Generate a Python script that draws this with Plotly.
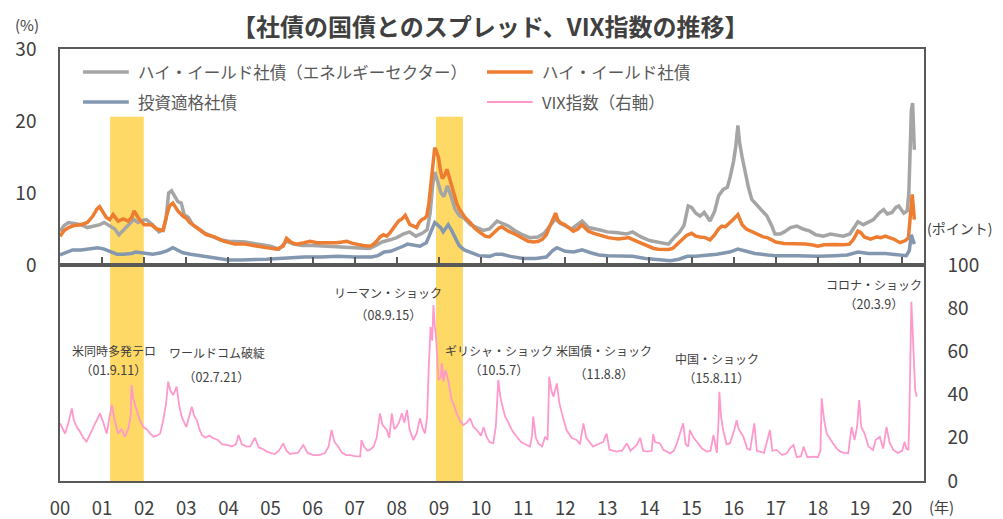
import plotly.graph_objects as go

# ---------------- data ----------------
hy_energy_t = [2000.0, 2000.1, 2000.2, 2000.35, 2000.5, 2000.65, 2000.8, 2000.95, 2001.05, 2001.2, 2001.3, 2001.4,
               2001.5, 2001.62, 2001.75, 2001.85, 2001.95, 2002.05, 2002.2, 2002.35, 2002.45, 2002.52, 2002.58,
               2002.65, 2002.72, 2002.8, 2002.88, 2002.95, 2003.05, 2003.15, 2003.3, 2003.45, 2003.6, 2003.8,
               2004.0, 2004.2, 2004.4, 2004.6, 2004.8, 2005.0, 2005.2, 2005.38, 2005.55, 2005.75, 2006.0, 2006.3,
               2006.6, 2006.9, 2007.1, 2007.35, 2007.5, 2007.65, 2007.84, 2008.0, 2008.15, 2008.3, 2008.45, 2008.6,
               2008.72, 2008.79, 2008.85, 2008.9, 2008.96, 2009.05, 2009.12, 2009.2, 2009.28, 2009.38, 2009.48,
               2009.6, 2009.75, 2009.9, 2010.05, 2010.2, 2010.38, 2010.5, 2010.65, 2010.8, 2010.95, 2011.15,
               2011.35, 2011.5, 2011.65, 2011.76, 2011.88, 2012.0, 2012.15, 2012.4, 2012.55, 2012.8, 2013.0,
               2013.2, 2013.45, 2013.6, 2013.8, 2014.0, 2014.2, 2014.45, 2014.6, 2014.72, 2014.82, 2014.92, 2015.0,
               2015.1, 2015.2, 2015.3, 2015.44, 2015.55, 2015.64, 2015.75, 2015.85, 2015.92, 2016.0, 2016.05,
               2016.1, 2016.14, 2016.2, 2016.27, 2016.35, 2016.43, 2016.55, 2016.65, 2016.79, 2016.9, 2016.98,
               2017.1, 2017.2, 2017.35, 2017.5, 2017.65, 2017.81, 2017.95, 2018.13, 2018.3, 2018.45, 2018.6,
               2018.76, 2018.86, 2018.95, 2019.08, 2019.2, 2019.32, 2019.45, 2019.56, 2019.65, 2019.76, 2019.85,
               2019.92, 2020.04, 2020.12, 2020.16, 2020.19, 2020.22, 2020.25, 2020.27, 2020.29]
hy_energy_v = [4.7, 5.5, 5.9, 5.7, 5.6, 5.2, 5.4, 5.6, 5.9, 5.4, 5.0, 4.2,
               4.8, 5.6, 6.3, 5.9, 6.2, 6.3, 5.6, 4.6, 4.9, 6.5, 10.0,
               10.3, 9.6, 8.8, 8.6, 7.0, 6.6, 5.6, 5.0, 4.4, 4.0, 3.5,
               3.3, 3.3, 3.2, 3.0, 2.8, 2.6, 2.2, 3.3, 2.9, 2.7, 2.7, 2.6,
               2.5, 2.5, 2.4, 2.3, 2.7, 3.2, 3.5, 3.8, 4.3, 4.6, 4.0, 4.4,
               4.9, 7.2, 11.0, 12.9, 11.8, 10.0, 9.5, 11.0, 9.7, 7.8, 6.9,
               6.5, 5.6, 5.2, 4.8, 5.0, 6.1, 5.8, 5.4, 4.8, 4.3, 3.8,
               3.9, 4.4, 5.6, 6.4, 5.8, 5.4, 5.0, 6.1, 5.2, 4.9, 4.6,
               4.5, 4.3, 4.6, 3.9, 3.4, 3.2, 2.9, 3.9, 4.6, 5.5, 8.2, 8.0,
               7.2, 6.8, 7.3, 6.1, 7.5, 9.6, 10.5, 10.8, 12.3, 14.5, 16.5,
               19.4, 17.0, 15.0, 12.8, 10.8, 9.1, 8.3, 7.7, 6.8, 5.5, 4.3,
               4.3, 4.6, 5.2, 5.4, 5.0, 4.7, 4.2, 4.0, 4.3, 4.2, 4.0,
               4.3, 5.2, 6.0, 5.6, 5.9, 6.3, 7.2, 7.7, 7.1, 7.3, 8.0,
               8.2, 7.2, 7.5, 10.0, 16.5, 21.6, 22.5, 19.0, 16.0]

hy_t = [2000.0, 2000.1, 2000.2, 2000.35, 2000.5, 2000.65, 2000.78, 2000.88, 2000.94, 2001.02, 2001.1, 2001.18,
        2001.26, 2001.38, 2001.5, 2001.62, 2001.7, 2001.76, 2001.82, 2001.89, 2002.0, 2002.16, 2002.3, 2002.45,
        2002.53, 2002.6, 2002.68, 2002.74, 2002.8, 2002.92, 2003.0, 2003.08, 2003.2, 2003.3, 2003.47, 2003.67,
        2003.9, 2004.15, 2004.4, 2004.7, 2004.94, 2005.15, 2005.3, 2005.38, 2005.5, 2005.62, 2005.8, 2005.94,
        2006.1, 2006.25, 2006.4, 2006.57, 2006.7, 2006.81, 2006.95, 2007.05, 2007.2, 2007.36, 2007.45, 2007.52,
        2007.6, 2007.68, 2007.76, 2007.84, 2007.94, 2008.04, 2008.12, 2008.2, 2008.26, 2008.31, 2008.4, 2008.47,
        2008.53, 2008.59, 2008.66, 2008.71, 2008.76, 2008.8, 2008.85, 2008.9, 2008.94, 2008.99, 2009.04, 2009.08,
        2009.14, 2009.19, 2009.24, 2009.3, 2009.36, 2009.42, 2009.48, 2009.54, 2009.62, 2009.74, 2009.85, 2009.98,
        2010.1, 2010.2, 2010.33, 2010.42, 2010.49, 2010.57, 2010.65, 2010.77, 2010.89, 2011.0, 2011.12, 2011.25,
        2011.36, 2011.46, 2011.55, 2011.62, 2011.68, 2011.74, 2011.77, 2011.82, 2011.88, 2011.99, 2012.1, 2012.19,
        2012.3, 2012.39, 2012.46, 2012.55, 2012.68, 2012.79, 2012.9, 2013.02, 2013.14, 2013.26, 2013.4, 2013.5,
        2013.62, 2013.74, 2013.86, 2013.97, 2014.1, 2014.21, 2014.35, 2014.45, 2014.55, 2014.65, 2014.77, 2014.88,
        2015.0, 2015.1, 2015.2, 2015.32, 2015.44, 2015.55, 2015.64, 2015.72, 2015.8, 2015.91, 2016.0, 2016.1,
        2016.15, 2016.2, 2016.3, 2016.4, 2016.5, 2016.6, 2016.7, 2016.8, 2016.9, 2017.0, 2017.2, 2017.4, 2017.5,
        2017.7, 2017.85, 2018.0, 2018.15, 2018.3, 2018.4, 2018.6, 2018.75, 2018.85, 2018.95, 2019.02, 2019.1,
        2019.25, 2019.4, 2019.5, 2019.6, 2019.7, 2019.8, 2019.95, 2020.08, 2020.15, 2020.19, 2020.22, 2020.24,
        2020.26, 2020.29]
hy_v = [4.0, 4.8, 5.2, 5.5, 5.6, 5.9, 6.8, 7.8, 8.1, 7.3, 6.6, 6.3,
        7.0, 6.1, 6.4, 6.1, 6.6, 7.5, 7.0, 6.3, 5.6, 5.6, 5.0, 4.8,
        6.8, 8.2, 8.6, 8.0, 7.5, 6.8, 6.5, 5.9, 5.4, 5.0, 4.2, 3.9,
        3.3, 2.9, 2.9, 2.6, 2.4, 2.2, 2.6, 3.7, 3.1, 2.9, 3.1, 3.3,
        3.1, 3.1, 3.0, 3.1, 3.2, 3.3, 3.0, 2.85, 2.7, 2.6, 2.9, 3.3,
        3.9, 4.2, 4.0, 4.5, 5.3, 6.1, 6.4, 6.9, 6.2, 5.6, 5.4, 5.2,
        5.9, 6.3, 6.5, 6.8, 8.5, 11.0, 13.3, 16.3, 15.8, 14.9, 13.0, 12.0,
        12.5, 13.3, 12.3, 10.9, 9.7, 8.6, 7.8, 7.3, 6.6, 5.9, 5.1, 4.5,
        4.0, 3.9, 4.7, 5.1, 5.3, 5.0, 4.7, 4.4, 4.0, 3.6, 3.3, 3.2,
        3.3, 3.6, 4.2, 5.2, 5.9, 6.8, 7.2, 6.3, 5.9, 5.6, 5.1, 4.7,
        5.0, 5.6, 5.2, 4.7, 4.4, 4.2, 4.0, 3.8, 3.7, 3.6, 3.7, 3.8,
        3.5, 3.2, 2.8, 2.5, 2.3, 2.2, 2.1, 2.15, 2.3, 2.8, 3.5, 4.1,
        4.4, 4.0, 3.9, 3.8, 3.5, 4.2, 5.0, 5.4, 5.3, 6.0, 6.4, 7.0,
        6.3, 5.6, 5.0, 4.7, 4.4, 4.1, 3.9, 3.8, 3.5, 3.2, 3.0, 3.0, 2.9,
        2.9, 2.8, 2.6, 2.8, 2.9, 2.85, 2.8, 2.9, 3.6, 4.7, 4.5, 3.9,
        3.6, 3.9, 3.8, 4.0, 3.8, 3.6, 3.1, 3.4, 3.8, 6.5, 8.5, 9.8,
        8.5, 6.3]

ig_t = [2000.0, 2000.15, 2000.3, 2000.5, 2000.7, 2000.9, 2001.05, 2001.2, 2001.35, 2001.5, 2001.7, 2001.8,
        2002.0, 2002.2, 2002.4, 2002.55, 2002.68, 2002.8, 2002.92, 2003.1, 2003.3, 2003.5, 2003.75, 2004.0,
        2004.3, 2004.6, 2004.9, 2005.2, 2005.5, 2005.8, 2006.2, 2006.6, 2007.0, 2007.4, 2007.55, 2007.7,
        2007.85, 2008.0, 2008.15, 2008.25, 2008.4, 2008.55, 2008.7, 2008.78, 2008.85, 2008.9, 2008.96, 2009.04,
        2009.1, 2009.18, 2009.22, 2009.3, 2009.38, 2009.48, 2009.6, 2009.75, 2009.95, 2010.2, 2010.35, 2010.5,
        2010.7, 2011.0, 2011.3, 2011.55, 2011.7, 2011.8, 2011.9, 2012.0, 2012.2, 2012.4, 2012.6, 2012.8,
        2013.0, 2013.3, 2013.6, 2013.9, 2014.2, 2014.5, 2014.7, 2014.9, 2015.1, 2015.3, 2015.6, 2015.9,
        2016.1, 2016.3, 2016.5, 2016.8, 2017.0, 2017.5, 2018.0, 2018.4, 2018.7, 2018.95, 2019.2, 2019.6,
        2019.9, 2020.1, 2020.17, 2020.22, 2020.25, 2020.29]
ig_v = [1.4, 1.8, 2.1, 2.1, 2.2, 2.4, 2.2, 1.9, 1.5, 1.5, 1.6, 1.8,
        1.6, 1.5, 1.7, 2.0, 2.4, 2.1, 1.7, 1.5, 1.3, 1.1, 0.9, 0.7,
        0.7, 0.7, 0.8, 0.9, 1.0, 1.1, 1.1, 1.2, 1.1, 1.1, 1.3, 1.8,
        1.9, 2.2, 2.6, 2.9, 2.7, 2.6, 3.1, 4.2, 5.2, 5.9, 5.6, 5.2,
        4.6, 5.4, 5.6, 4.8, 3.8, 2.7, 2.1, 1.7, 1.3, 1.2, 1.5, 1.5,
        1.2, 0.9, 0.9, 1.1, 2.0, 2.4, 2.2, 1.9, 1.8, 2.1, 1.7, 1.4,
        1.3, 1.2, 1.2, 0.9, 0.7, 0.6, 0.8, 1.2, 1.2, 1.3, 1.5, 1.8,
        2.2, 1.9, 1.6, 1.4, 1.3, 1.3, 1.2, 1.3, 1.4, 1.8, 1.6, 1.6,
        1.4, 1.3, 2.0, 4.2, 3.6, 2.9]

vix_t = [2000.0, 2000.06, 2000.12, 2000.2, 2000.28, 2000.33, 2000.4, 2000.47, 2000.55, 2000.63, 2000.7, 2000.79,
         2000.87, 2000.95, 2001.03, 2001.11, 2001.18, 2001.23, 2001.3, 2001.38, 2001.46, 2001.54, 2001.62, 2001.68,
         2001.7, 2001.74, 2001.82, 2001.9, 2001.98, 2002.06, 2002.14, 2002.22, 2002.3, 2002.38, 2002.45, 2002.52,
         2002.57, 2002.62, 2002.69, 2002.77, 2002.83, 2002.89, 2002.95, 2003.0, 2003.07, 2003.13, 2003.19, 2003.25,
         2003.31, 2003.37, 2003.45, 2003.55, 2003.64, 2003.75, 2003.85, 2003.96, 2004.08, 2004.18, 2004.24, 2004.32,
         2004.43, 2004.52, 2004.63, 2004.72, 2004.8, 2004.91, 2005.0, 2005.1, 2005.2, 2005.3, 2005.38, 2005.46,
         2005.54, 2005.65, 2005.78, 2005.88, 2006.02, 2006.15, 2006.29, 2006.38, 2006.45, 2006.52, 2006.61, 2006.7,
         2006.8, 2006.89, 2007.0, 2007.13, 2007.16, 2007.22, 2007.3, 2007.36, 2007.45, 2007.52, 2007.6, 2007.66,
         2007.76, 2007.82, 2007.88, 2007.94, 2007.99, 2008.05, 2008.12, 2008.18, 2008.24, 2008.3, 2008.39, 2008.47,
         2008.55, 2008.62, 2008.67, 2008.72, 2008.75, 2008.8, 2008.84, 2008.87, 2008.9, 2008.93, 2008.99, 2009.04,
         2009.07, 2009.11, 2009.15, 2009.22, 2009.3, 2009.36, 2009.42, 2009.5, 2009.58, 2009.66, 2009.74, 2009.82,
         2009.9, 2010.0, 2010.06, 2010.13, 2010.2, 2010.29, 2010.35, 2010.41, 2010.45, 2010.49, 2010.57, 2010.65,
         2010.75, 2010.85, 2010.95, 2011.05, 2011.16, 2011.21, 2011.24, 2011.3, 2011.36, 2011.45, 2011.52, 2011.58,
         2011.62, 2011.67, 2011.72, 2011.8, 2011.86, 2011.92, 2011.98, 2012.03, 2012.15, 2012.27, 2012.35, 2012.43,
         2012.5, 2012.58, 2012.66, 2012.78, 2012.9, 2012.98, 2013.05, 2013.22, 2013.35, 2013.46, 2013.55, 2013.7,
         2013.78, 2013.85, 2013.94, 2014.05, 2014.09, 2014.13, 2014.25, 2014.33, 2014.49, 2014.58, 2014.65, 2014.8,
         2014.86, 2014.92, 2014.96, 2015.05, 2015.16, 2015.25, 2015.36, 2015.45, 2015.52, 2015.6, 2015.64, 2015.66,
         2015.7, 2015.75, 2015.83, 2015.91, 2016.02, 2016.07, 2016.12, 2016.23, 2016.32, 2016.39, 2016.49, 2016.55,
         2016.63, 2016.72, 2016.79, 2016.86, 2016.92, 2017.02, 2017.15, 2017.26, 2017.33, 2017.42, 2017.5, 2017.6,
         2017.66, 2017.75, 2017.89, 2018.0, 2018.06, 2018.09, 2018.15, 2018.21, 2018.36, 2018.45, 2018.53, 2018.62,
         2018.72, 2018.8, 2018.87, 2018.93, 2018.98, 2019.03, 2019.11, 2019.2, 2019.31, 2019.37, 2019.47, 2019.55,
         2019.63, 2019.7, 2019.79, 2019.9, 2020.0, 2020.06, 2020.1, 2020.15, 2020.17, 2020.2, 2020.22, 2020.25,
         2020.27, 2020.31, 2020.35]
vix_v = [26.7, 24, 22, 27, 33.6, 28, 25, 23, 20, 18.2, 21, 25,
         28, 31.3, 27, 22, 30, 35.2, 28, 22, 24, 20.5, 24, 30,
         44.4, 38, 32.9, 28, 25, 24, 22, 20.5, 21, 22, 28, 36,
         46, 42, 39.8, 43.7, 35, 29.8, 27, 25, 30, 34.4, 30, 28.2,
         24, 21.3, 20, 21, 19.8, 19, 17, 16.7, 16, 17, 21.3, 17,
         15.9, 16, 20, 15.5, 15, 13.6, 13, 12.5, 14, 17.4, 14, 12.5,
         12.8, 13, 16.7, 13, 12, 12, 12.8, 16, 23.6, 18, 15.9, 13,
         12, 12, 11.5, 11.3, 19, 16, 14, 14.4, 16, 20, 31.3, 26,
         23.6, 20, 31.3, 24, 25, 27, 31.3, 27, 32.9, 24, 19, 22,
         29, 24, 22, 30, 48.3, 71.4, 65, 81.5, 72, 66.8, 46.8, 48,
         54.5, 46, 51.4, 46.8, 37.5, 35, 31.3, 28, 25.9, 27, 29, 25,
         23.6, 21, 25, 20.5, 18, 17.4, 25, 46.8, 40, 36, 30, 26.7,
         23, 20.5, 18, 17, 15.9, 21, 29.8, 20, 17.4, 16, 20.5, 19,
         48.3, 42, 39, 45.2, 36, 31.3, 27, 23.6, 20, 19, 17, 26.7,
         20, 18, 15.9, 17, 18, 22, 14.5, 13.6, 14, 17.4, 14, 16.7,
         20, 14, 13.6, 14, 21.7, 18, 17.4, 14.4, 12.8, 14, 17.4, 26.7,
         17, 15.9, 23.6, 20, 17.4, 15, 13.6, 14, 21.3, 13, 28, 41.3,
         30, 23.6, 17, 17.4, 24, 28.2, 24, 20.5, 15, 14.4, 26.7, 14,
         13.6, 13, 18.2, 23.6, 14, 14.4, 12, 12.8, 15, 16.7, 11, 11.5,
         15.9, 11, 11.3, 11, 14, 38.3, 28, 22, 17.4, 15, 13.6, 13,
         12.8, 25, 19, 25, 37.5, 25, 22, 16, 14.4, 19, 20.5, 15,
         25, 18, 14.4, 13, 14, 18.2, 15, 14.4, 28.2, 76, 83, 70,
         57.5, 42, 39]

year_ticks = list(range(2000, 2021))
year_labels = [f"{y % 100:02d}" for y in year_ticks]
left_ticks = [0, 10, 20, 30]
right_ticks = [0, 20, 40, 60, 80, 100]

recessions = [(2001.19, 2001.99), (2008.93, 2009.57)]

events = [
    ("米同時多発テロ", "（01.9.11）", 2001.28, 60.2, 51.4),
    ("ワールドコム破綻", "（02.7.21）", 2003.72, 59.3, 48.6),
    ("リーマン・ショック", "（08.9.15）", 2007.8, 87.5, 77.3),
    ("ギリシャ・ショック", "（10.5.7）", 2010.43, 60.6, 51.4),
    ("米国債・ショック", "（11.8.8）", 2012.92, 60.6, 50.0),
    ("中国・ショック", "（15.8.11）", 2015.6, 56.9, 47.7),
    ("コロナ・ショック", "（20.3.9）", 2019.33, 91.2, 82.4),
]

series_names = ["ハイ・イールド社債（エネルギーセクター）", "ハイ・イールド社債", "投資適格社債", "VIX指数（右軸）"]
series_colors = ["#A5A5A5", "#ED7D31", "#8497B0", "#FF99CC"]
series_widths = [3.5, 3.5, 3.5, 1.8]

# ---------------- figure ----------------
# the page body has an 8px margin, so the figure is 8px smaller than the window
FONT = "Noto Sans CJK JP"
TXT = "#404040"
AX = "#595959"

fig = go.Figure()
for (t, v), name, col, w, ya in zip([(hy_energy_t, hy_energy_v), (hy_t, hy_v), (ig_t, ig_v), (vix_t, vix_v)],
                                   series_names, series_colors, series_widths, ["y", "y", "y", "y2"]):
    fig.add_trace(go.Scatter(x=t, y=v, mode="lines", name=name, showlegend=False,
                             line=dict(color=col, width=w),
                             xaxis="x" if ya == "y" else "x2", yaxis=ya))

shapes = []
for a, b in recessions:
    shapes.append(dict(type="rect", xref="x", yref="paper", x0=a, x1=b, y0=0, y1=0.843,
                       fillcolor="#FFD966", line=dict(width=0), layer="below"))

annotations = [
    # chart title (as a paper-anchored annotation)
    dict(text="<b>【社債の国債とのスプレッド、VIX指数の推移】</b>", x=0.4977, y=1.054, xref="paper",
         yref="paper", xanchor="center", yanchor="middle", showarrow=False,
         font=dict(size=24, color=TXT, family=FONT)),
]
# custom legend: two columns, two rows
legend_pos = [(0.0266, 0.9468), (0.4942, 0.9468), (0.0266, 0.8773), (0.4942, 0.8773)]
for (lx, ly), name, col, w in zip(legend_pos, series_names, series_colors, series_widths):
    shapes.append(dict(type="line", xref="paper", yref="paper", x0=lx, x1=lx + 0.053, y0=ly, y1=ly,
                       line=dict(color=col, width=w if w > 2 else 2)))
    annotations.append(dict(text=name, x=lx + 0.061, y=ly, xref="paper", yref="paper", xanchor="left",
                            yanchor="middle", showarrow=False,
                            font=dict(size=16.5, color="#595959", family=FONT)))

for name, date, x, y1, y2 in events:
    annotations.append(dict(text=name, x=x, y=y1, xref="x2", yref="y2", showarrow=False,
                            xanchor="center", yanchor="middle",
                            font=dict(size=12, color=TXT, family=FONT)))
    annotations.append(dict(text=date, x=x, y=y2, xref="x2", yref="y2", showarrow=False,
                            xanchor="center", yanchor="middle",
                            font=dict(size=12.5, color=TXT, family=FONT)))
annotations += [
    dict(text="(%)", x=-0.038, y=1.056, xref="paper", yref="paper", showarrow=False,
         xanchor="center", yanchor="middle", font=dict(size=15, color=TXT, family=FONT)),
    dict(text="(ポイント)", x=1.041, y=0.586, xref="paper", yref="paper", showarrow=False,
         xanchor="center", yanchor="middle", font=dict(size=14, color=TXT, family=FONT)),
    dict(text="(年)", x=1.02, y=-0.06, xref="paper", yref="paper", showarrow=False,
         xanchor="center", yanchor="middle", font=dict(size=15, color=TXT, family=FONT)),
]

axis_common = dict(showgrid=False, zeroline=False, showline=True, linecolor=AX, linewidth=1.5, mirror=True,
                   automargin=False)

fig.update_layout(
    width=995, height=511,
    margin=dict(l=52, r=79, t=41, b=38, autoexpand=False),
    paper_bgcolor="white", plot_bgcolor="white",
    font=dict(family=FONT, color=TXT),
    showlegend=False,
    xaxis=dict(domain=[0, 1], anchor="y", range=[2000, 2020.52], tickvals=year_ticks,
               showticklabels=False, ticks="inside", ticklen=8, tickcolor=AX, tickwidth=1.5, **axis_common),
    xaxis2=dict(domain=[0, 1], anchor="y2", matches="x", range=[2000, 2020.52], tickvals=year_ticks,
                ticktext=year_labels, ticks="", ticklabelstandoff=10,
                tickfont=dict(size=18.5, color=TXT, family=FONT), **axis_common),
    yaxis=dict(domain=[0.5, 1], anchor="x", range=[0, 30], tickvals=left_ticks, ticks="",
               ticklabelstandoff=18, tickfont=dict(size=19, color=TXT, family=FONT), **axis_common),
    yaxis2=dict(domain=[0, 0.5], anchor="x2", side="right", range=[0, 100], tickvals=right_ticks, ticks="",
                ticklabelstandoff=18, tickfont=dict(size=19, color=TXT, family=FONT), **axis_common),
    shapes=shapes,
    annotations=annotations,
)

fig.write_html("out.html")
